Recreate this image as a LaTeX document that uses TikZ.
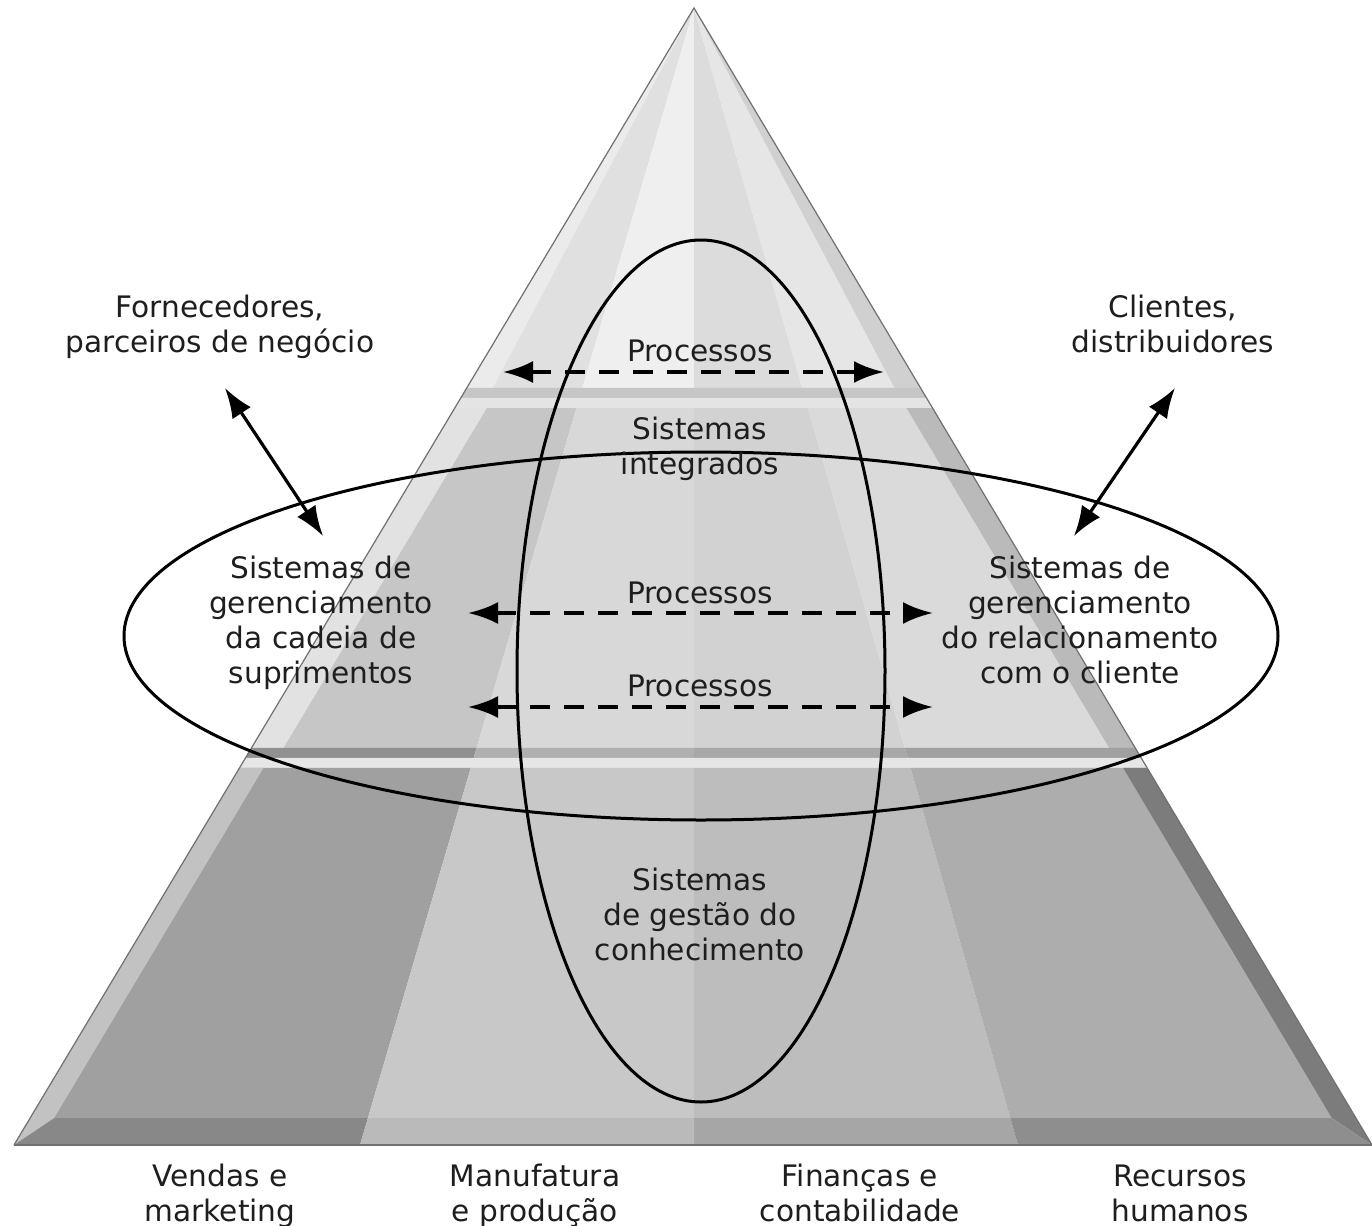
\documentclass[tikz,border=0pt]{standalone}
\usepackage{fontspec}
\setmainfont{DejaVu Sans}
\usetikzlibrary{calc,arrows.meta,shapes.geometric}
\definecolor{tA}{HTML}{E0E0E0}
\definecolor{tB}{HTML}{EFEFEF}
\definecolor{tC}{HTML}{DCDCDC}
\definecolor{tD}{HTML}{E6E6E6}
\definecolor{tLb}{HTML}{EBEBEB}
\definecolor{tRb}{HTML}{D0D0D0}
\definecolor{tBand}{HTML}{C6C6C6}
\definecolor{mTop}{HTML}{E4E4E4}
\definecolor{mA}{HTML}{C6C6C6}
\definecolor{mB}{HTML}{D8D8D8}
\definecolor{mC}{HTML}{D2D2D2}
\definecolor{mD}{HTML}{DADADA}
\definecolor{mLb}{HTML}{E2E2E2}
\definecolor{mRb}{HTML}{BABABA}
\definecolor{mBandA}{HTML}{909090}
\definecolor{mBandB}{HTML}{B0B0B0}
\definecolor{mBandC}{HTML}{A8A8A8}
\definecolor{mBandD}{HTML}{A0A0A0}
\definecolor{bTop}{HTML}{E6E6E6}
\definecolor{bA}{HTML}{A0A0A0}
\definecolor{bB}{HTML}{C8C8C8}
\definecolor{bC}{HTML}{BDBDBD}
\definecolor{bD}{HTML}{ADADAD}
\definecolor{bLb}{HTML}{C2C2C2}
\definecolor{bRb}{HTML}{7C7C7C}
\definecolor{bBotA}{HTML}{888888}
\definecolor{bBotB}{HTML}{BABABA}
\definecolor{bBotC}{HTML}{A6A6A6}
\definecolor{bBotD}{HTML}{8E8E8E}
\definecolor{edgegray}{HTML}{707070}
\definecolor{txt}{HTML}{1E1E1E}
\newcommand\mkrow[2]{\foreach \k in {0,...,4}{\coordinate (#1\k) at ($(A)!#2!(B\k)$);}}
\begin{document}
\begin{tikzpicture}[x=0.5pt,y=-0.5pt,
  lbl/.style={font=\fontsize{14.8}{17.5}\selectfont, align=center, text=txt, inner sep=0pt,
    yshift=-2.5pt, execute at begin node=\strut, execute at end node=\strut},
  ring/.style={draw=black, line width=1.5pt, ellipse, inner sep=0pt},
  dasharrow/.style={line width=1.9pt, dash pattern=on 10pt off 7pt, {Latex[length=15pt,width=11pt]}-{Latex[length=15pt,width=11pt]}},
  solidarrow/.style={line width=1.6pt, {Latex[length=15pt,width=11pt]}-{Latex[length=15pt,width=11pt]}},
  edgeline/.style={draw=edgegray, line width=0.6pt}
]
\useasboundingbox (0,0) rectangle (1372,1226);
\fill[white] (0,0) rectangle (1372,1226);
% pyramid frame
\coordinate (A) at (694,8);
\coordinate (B0) at (14,1145);
\coordinate (B1) at (360,1145);
\coordinate (B2) at (694,1145);
\coordinate (B3) at (1018,1145);
\coordinate (B4) at (1372,1145);
\mkrow{a}{0.3342}
\mkrow{b}{0.3430}
\mkrow{c}{0.3518}
\mkrow{d}{0.6508}
\mkrow{e}{0.6596}
\mkrow{f}{0.6684}
\mkrow{g}{0.9763}
\mkrow{h}{1}
% ---- top tier
\fill[tA] (A)--(a0)--(a1)--cycle;
\fill[tB] (A)--(a1)--(a2)--cycle;
\fill[tC] (A)--(a2)--(a3)--cycle;
\fill[tD] (A)--(a3)--(a4)--cycle;
\fill[tLb] (A)--(a0)--($(a0)+(26,0)$)--cycle;
\fill[tRb] (A)--(a4)--($(a4)+(-26,0)$)--cycle;
\fill[tBand] (a0)--(a4)--(b4)--(b0)--cycle;
% ---- middle tier
\fill[mTop] (b0)--(b4)--(c4)--(c0)--cycle;
\fill[mA] (c0)--(c1)--(d1)--(d0)--cycle;
\fill[mB] (c1)--(c2)--(d2)--(d1)--cycle;
\fill[mC] (c2)--(c3)--(d3)--(d2)--cycle;
\fill[mD] (c3)--(c4)--(d4)--(d3)--cycle;
\fill[mLb] (c0)--($(c0)+(32,0)$)--($(d0)+(32,0)$)--(d0)--cycle;
\fill[mRb] ($(c4)+(-26,0)$)--(c4)--(d4)--($(d4)+(-26,0)$)--cycle;
\fill[mBandA] (d0)--(d1)--(e1)--(e0)--cycle;
\fill[mBandB] (d1)--(d2)--(e2)--(e1)--cycle;
\fill[mBandC] (d2)--(d3)--(e3)--(e2)--cycle;
\fill[mBandD] (d3)--(d4)--(e4)--(e3)--cycle;
% ---- bottom tier
\fill[bTop] (e0)--(e4)--(f4)--(f0)--cycle;
\fill[bA] (f0)--(f1)--(g1)--(g0)--cycle;
\fill[bB] (f1)--(f2)--(g2)--(g1)--cycle;
\fill[bC] (f2)--(f3)--(g3)--(g2)--cycle;
\fill[bD] (f3)--(f4)--(g4)--(g3)--cycle;
\fill[bLb] (f0)--($(f0)+(24,0)$)--($(g0)+(24,0)$)--(h0)--cycle;
\fill[bRb] ($(f4)+(-24,0)$)--(f4)--(h4)--($(g4)+(-24,0)$)--cycle;
\fill[bBotA] (h0)--($(g0)+(24,0)$)--(g1)--(h1)--cycle;
\fill[bBotB] (g1)--(g2)--(h2)--(h1)--cycle;
\fill[bBotC] (g2)--(g3)--(h3)--(h2)--cycle;
\fill[bBotD] (g3)--($(g4)+(-24,0)$)--(h4)--(h3)--cycle;
% outline
\draw[edgeline] (h0)--(A)--(h4);
\draw[edgeline] (h0)--(h4);
% ---- ellipses
\node[ring, minimum width=184pt, minimum height=431pt] (vring) at (701,671) {};
\node[ring, minimum width=577pt, minimum height=184pt] (hring) at (701,636) {};
% ---- arrows
\coordinate (p1l) at (503,372);
\coordinate (p1r) at (884,372);
\coordinate (p2l) at (468,613);
\coordinate (p2r) at (933,613);
\coordinate (p3l) at (468,707);
\coordinate (p3r) at (933,707);
\coordinate (dl1) at (225,388);
\coordinate (dl2) at (323,536);
\coordinate (dr1) at (1175,388);
\coordinate (dr2) at (1074,536);
\draw[dasharrow] (p1l) -- (p1r);
\draw[dasharrow] (p2l) -- (p2r);
\draw[dasharrow] (p3l) -- (p3r);
\draw[solidarrow] (dl1) -- (dl2);
\draw[solidarrow] (dr1) -- (dr2);
% ---- labels
\node[lbl] (forn) at (220,324) {Fornecedores,\\parceiros de negócio};
\node[lbl] (cli) at (1173,324) {Clientes,\\distribuidores};
\node[lbl] (proc1) at (700,349) {Processos};
\node[lbl] (sysint) at (700,446) {Sistemas\\integrados};
\node[lbl] (proc2) at (700,591) {Processos};
\node[lbl] (proc3) at (700,684) {Processos};
\node[lbl] (scm) at (321,620) {Sistemas de\\gerenciamento\\da cadeia de\\suprimentos};
\node[lbl] (crm) at (1080,620) {Sistemas de\\gerenciamento\\do relacionamento\\com o cliente};
\node[lbl] (kms) at (700,914) {Sistemas\\de gestão do\\conhecimento};
\node[lbl] (vm) at (220,1193) {Vendas e\\marketing};
\node[lbl] (mp) at (535,1193) {Manufatura\\e produção};
\node[lbl] (fc) at (860,1193) {Finanças e\\contabilidade};
\node[lbl] (rh) at (1180,1193) {Recursos\\humanos};
\end{tikzpicture}
\end{document}
